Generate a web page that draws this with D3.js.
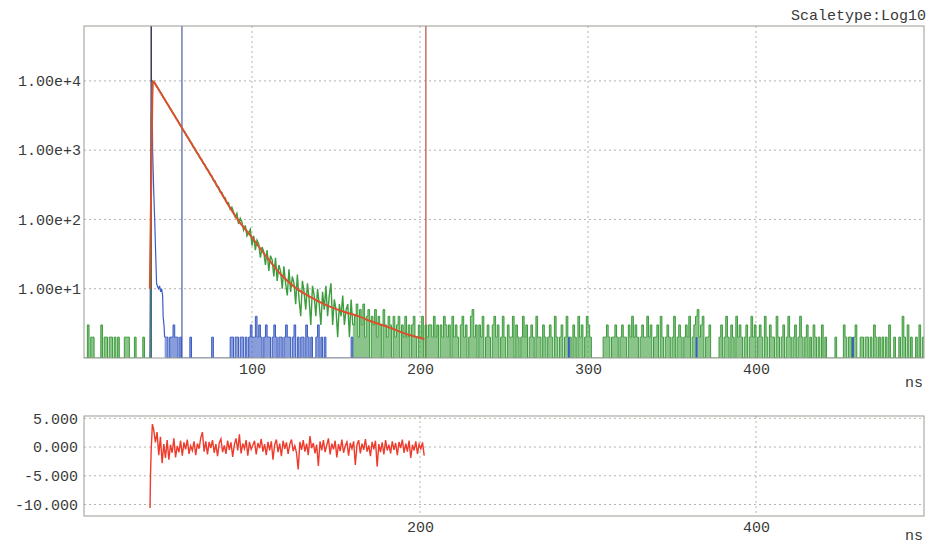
<!DOCTYPE html>
<html>
<head>
<meta charset="utf-8">
<script src="https://cdn.jsdelivr.net/npm/d3@7"></script>
<style>
  body { margin: 0; background: #fff; }
  text { font-family: "Liberation Mono", "DejaVu Sans Mono", monospace; fill: #3a3a3a; }
</style>
</head>
<body>
<div id="my_dataviz"></div>
<script>
// ---- data (counts per 1 ns channel) ----
// decay channels, t = 0 .. 39 ns (before the pulse)
var greenPre = [0,0,3,0,2,2,0,0,0,0, 3,0,2,2,0,2,2,0,2,0, 2,0,0,0,2,2,2,0,0,0, 2,0,0,0,0,2,0,0,0,0];
// t = 40 .. 205 ns
var greenDecay = [2600,9900,9300,8500,7900,7100,6600,5900,5450,4900,
  4550,4080,3780,3390,3150,2820,2630,2340,2180,1950,
  1820,1610,1520,1340,1270,1110,1060,920,880,770,
  740,640,615,530,515,440,428,365,358,300,
  298,250,246,212,206,172,
  175,140,150,128,108,122,86,104,92,70,
  82,58,64,72,42,58,36,50,44,28,
  40,34,22,36,18,30,26,15,28,13,
  22,18,10,21,12,8,19,9,15,12,
  6,16,7,4,13,9,5,12,7,3,
  11,8,4,10,6,3,9,5,11,4,
  8,12,3,7,5,
  2,6,4,8,3,5,6,2,7,3,
  4,6,2,5,3,6,2,4,5,1,
  4,3,5,2,4,3,1,5,3,2,
  4,3,1,4,2,3,4,1,3,2,
  4,2,3,1,3,4,2,1,3,2,
  4,1,3,2,3];
// t = 206 .. 499 ns
var greenTail = [3,2,4,2,3,1,3,2,4,3, 2,3,1,4,2,3,2,1,3,4, 2,3,1,2,4,5,2,3,1,3,
  2,4,1,2,3,2,1,3,4,2, 3,1,2,4,2,1,3,2,2,4, 1,3,2,1,2,4,2,3,1,2,
  3,2,1,4,2,2,1,3,2,1, 2,3,2,1,4,2,1,2,3,1, 2,4,2,2,1,3,2,1,4,2,
  3,1,2,4,3,2,1,1,1,1, 1,1,1,2,2,3,2,1,2,2, 3,2,1,2,3,2,2,1,3,2,
  4,2,3,2,1,2,3,2,2,4, 2,3,1,2,2,3,1,4,2,1, 2,3,2,1,2,4,1,2,3,2,
  1,2,3,2,4,1,2,3,4,5, 2,3,4,1,2,2,3,1,1,1, 1,1,2,3,1,2,4,2,1,3,
  2,1,4,2,3,2,1,2,3,1, 2,4,2,3,1,2,3,2,1,4, 2,1,3,2,2,1,4,2,1,2,
  3,1,2,4,2,1,2,3,1,2, 4,2,1,2,3,1,2,1,3,2, 1,2,1,3,1,2,1,1,1,1,
  1,2,1,1,1,1,3,2,1,2, 2,1,2,3,1,1,2,2,1,2, 2,1,2,1,3,2,1,2,1,2,
  1,2,1,3,1,1,2,1,1,2, 1,4,2,1,3,1,2,1,1,2, 1,3,1,2];

// instrument response (blue): the pulse itself
var irfPeakTime   = [39.2, 40.0, 40.4, 40.9, 41.5, 42.2, 42.7, 43.2, 43.6, 44.4, 45.0, 45.6, 46.2, 46.8, 47.1, 47.6, 48.0];
var irfPeakCounts = [0, 2000, 10000, 900, 260, 79, 30, 12, 11, 10, 11, 9, 10, 8, 4, 3, 2];
// t = 48 .. 170 ns
var irfTail = [2,2,0,2,2,3,2,2,0,2, 0,0,0,0,0,2,0,0,0,0, 0,0,0,0,0,0,0,0,2,0,
  0,0,0,0,0,0,0,0,0,2, 2,0,2,2,0,2,2,0,2,0, 2,3,2,2,4,2,3,2,0,2,
  3,2,2,0,2,3,2,0,2,2, 0,2,3,2,2,0,2,3,0,2, 0,2,2,0,3,2,0,2,0,0,
  2,3,0,2,0,2,0,0,0,0, 0,0,0,0,0,0,0,0,0,0, 0,2,0,0,0,0,0,0,0,0,
  0,0,0];
var irfLateTime = [288, 364, 457];
var irfLateCounts = [2, 2, 2];

// fitted curve (red): rising edge, then the decay
var fitRiseTime   = [39.2, 40.8, 41.3];
var fitRiseCounts = [10, 9600, 10000];
var fitTime   = [41.3, 58.0, 74.9, 91.7, 99.6, 108.6, 117.5, 126.4, 134.3, 144.2, 154.1, 164.0, 169.9, 181.8, 193.7, 202.6];
var fitCounts = [10000, 2160, 460, 98, 56.5, 29, 15.8, 10.1, 7.7, 5.8, 4.7, 3.95, 3.45, 2.75, 2.15, 1.88];

// cursors
var cursorStart = 40.0, cursorIrf = 58.3, cursorEnd = 203.5;

// residuals: first points around the rise, then one per ns from 41.5
var residLeadTime  = [39.3, 39.6, 40.0, 40.7];
var residLeadValue = [-10.6, -4.6, -0.5, 4.0];
var residuals = [3.0,0.8,2.6,-1.4,1.8,-2.8,0.5,-1.9,1.2,-2.2,
  0.4,-1.0,1.5,-1.8,0.2,-0.9,1.1,-1.5,0.8,-0.4,
  1.3,-1.2,0.2,-0.6,1.0,-1.4,0.6,-0.3,1.6,2.6,
  -0.8,1.0,-1.3,0.9,-0.2,1.2,-1.0,0.5,-1.6,0.7,
  1.4,-0.9,0.3,-1.2,1.1,-0.5,0.8,-1.7,0.4,1.5,
  -0.6,2.2,-1.1,0.6,-0.3,1.2,-1.5,0.9,-0.4,0.3,
  1.1,-1.3,0.7,-0.2,1.4,-0.8,0.5,-1.4,0.9,-0.6,
  1.0,-2.2,0.4,1.3,-0.9,0.6,-1.6,1.1,-0.3,0.8,
  -1.2,0.5,1.3,-0.7,0.2,-1.0,-3.9,0.9,-0.5,1.2,
  -0.8,0.6,-1.4,1.9,-0.2,0.7,-1.1,0.4,-3.3,1.0,
  -0.6,1.2,-0.9,0.3,1.5,-1.3,0.6,-0.4,1.1,-1.8,
  0.5,-0.7,1.3,-1.0,0.2,0.9,-1.5,0.7,-0.3,1.0,
  -3.1,0.4,1.2,-1.1,0.6,-0.5,1.4,-0.8,0.3,-1.6,
  0.9,-0.4,1.1,-3.4,0.5,-0.9,0.8,-1.3,1.2,-0.6,
  0.4,-1.1,1.0,-0.5,0.7,-1.4,0.9,-0.2,1.3,-1.0,
  0.6,-0.8,1.1,-1.9,0.4,-0.6,1.0,-1.2,0.5,-0.3,
  0.8,-1.5];

// tick labels
var countTicks = [10, 100, 1000, 10000];
var timeTicks = [100, 200, 300, 400];
var residTimeTicks = [200, 400];
var residTicks = [5, 0, -5, -10];

// ---- layout ----
var W = 928, H = 545;
var left = 84, right = 924;
var top1 = 26, bottom1 = 358;
var top2 = 416, bottom2 = 516;

var svg = d3.select("#my_dataviz")
  .append("svg")
    .attr("width", W)
    .attr("height", H);

svg.append("rect").attr("width", W).attr("height", H).attr("fill", "#fff");

var x = d3.scaleLinear().domain([0, 500]).range([left, right]);
var y = d3.scaleLog().domain([1, 62000]).range([bottom1, top1]);
var yr = d3.scaleLinear().domain([-12, 5.4]).range([bottom2, top2]);

var gridColor = "#b4b4ac";
var green = "#3d9c3d", blue = "#3b5cc2";

// grid lines, top panel
svg.append("g").selectAll("line")
  .data(countTicks).enter().append("line")
    .attr("x1", left).attr("x2", right)
    .attr("y1", function(d) { return y(d); }).attr("y2", function(d) { return y(d); })
    .attr("stroke", gridColor).attr("stroke-dasharray", "2,3");
svg.append("g").selectAll("line")
  .data(timeTicks).enter().append("line")
    .attr("x1", function(d) { return x(d); }).attr("x2", function(d) { return x(d); })
    .attr("y1", top1).attr("y2", bottom1)
    .attr("stroke", gridColor).attr("stroke-dasharray", "2,3");

// grid lines, residual panel
svg.append("g").selectAll("line")
  .data(residTicks).enter().append("line")
    .attr("x1", left).attr("x2", right)
    .attr("y1", function(d) { return yr(d); }).attr("y2", function(d) { return yr(d); })
    .attr("stroke", gridColor).attr("stroke-dasharray", "2,3");
svg.append("g").selectAll("line")
  .data(residTimeTicks).enter().append("line")
    .attr("x1", function(d) { return x(d); }).attr("x2", function(d) { return x(d); })
    .attr("y1", top2).attr("y2", bottom2)
    .attr("stroke", gridColor).attr("stroke-dasharray", "2,3");

// axes
function styleTicks(g) {
  g.select(".domain").remove();
  g.selectAll("text").style("font-size", "15px").style("font-family", "Liberation Mono").attr("fill", "#3a3a3a");
}
svg.append("g")
  .attr("transform", "translate(" + left + ",0)")
  .call(d3.axisLeft(y).tickValues(countTicks).tickFormat(d3.format(".2e")).tickSize(0).tickPadding(3))
  .call(styleTicks);

svg.append("g")
  .attr("transform", "translate(0," + bottom1 + ")")
  .call(d3.axisBottom(x).tickValues(timeTicks).tickFormat(d3.format("d")).tickSize(0).tickPadding(5))
  .call(styleTicks);

svg.append("g")
  .attr("transform", "translate(" + left + ",0)")
  .call(d3.axisLeft(yr).tickValues(residTicks).tickFormat(function(d) { return d.toFixed(3); }).tickSize(0).tickPadding(6))
  .call(styleTicks);

svg.append("g")
  .attr("transform", "translate(0," + bottom2 + ")")
  .call(d3.axisBottom(x).tickValues(residTimeTicks).tickFormat(d3.format("d")).tickSize(0).tickPadding(5))
  .call(styleTicks);

// unit labels + scale type
svg.append("text").attr("x", 923).attr("y", 387).attr("text-anchor", "end").style("font-size", "15px").text("ns");
svg.append("text").attr("x", 923).attr("y", 540).attr("text-anchor", "end").style("font-size", "15px").text("ns");
svg.append("text").attr("x", 926).attr("y", 20).attr("text-anchor", "end").style("font-size", "15px").text("Scaletype:Log10");

// clip to the top panel
svg.append("clipPath").attr("id", "clipTop")
  .append("rect").attr("x", left).attr("y", top1).attr("width", right - left).attr("height", bottom1 - top1);
var plot = svg.append("g").attr("clip-path", "url(#clipTop)");

// cursors
plot.append("line")
  .attr("x1", x(cursorEnd)).attr("x2", x(cursorEnd))
  .attr("y1", top1).attr("y2", bottom1)
  .attr("stroke", "#b5503e").attr("stroke-width", 1.2);
plot.append("line")
  .attr("x1", x(cursorIrf)).attr("x2", x(cursorIrf))
  .attr("y1", top1).attr("y2", bottom1)
  .attr("stroke", "#4a5aa6").attr("stroke-width", 1.2);
plot.append("line")
  .attr("x1", x(cursorStart)).attr("x2", x(cursorStart))
  .attr("y1", top1).attr("y2", bottom1)
  .attr("stroke", "#2a2a50").attr("stroke-width", 1.4);

// helpers
var yc = function(d) { return y(Math.max(d.c, 1)); };
var stepLine = d3.line().x(function(d) { return x(d.t); }).y(yc).curve(d3.curveStepAfter);
var stepArea = d3.area().x(function(d) { return x(d.t); }).y0(bottom1).y1(yc).curve(d3.curveStepAfter);
var zigLine = d3.line().x(function(d) { return x(d.t); }).y(yc);

function histogram(data, color) {
  plot.append("path").datum(data)
    .attr("fill", color).attr("fill-opacity", 0.6).attr("stroke", "none")
    .attr("d", stepArea);
  plot.append("path").datum(data)
    .attr("fill", "none").attr("stroke", color).attr("stroke-width", 1)
    .attr("d", stepLine);
}

// decay histogram (green): low-count parts as bars, the busy decay as a dense trace
var decay = greenPre.concat(greenDecay, greenTail).map(function(c, i) { return {t: i, c: c}; });
decay.push({t: 500, c: decay[decay.length - 1].c});
histogram(decay.filter(function(d) { return d.t <= 40; }), green);
plot.append("path")
  .datum(decay.filter(function(d) { return d.t >= 40 && d.t <= 160; }))
  .attr("fill", "none")
  .attr("stroke", green)
  .attr("stroke-width", 1.4)
  .attr("d", zigLine);
histogram(decay.filter(function(d) { return d.t >= 160; }), green);

// instrument response (blue)
var irfPeak = irfPeakTime.map(function(t, i) { return {t: t, c: irfPeakCounts[i]}; });
plot.append("path")
  .datum(irfPeak)
  .attr("fill", "none")
  .attr("stroke", blue)
  .attr("stroke-width", 1.2)
  .attr("d", zigLine);

var irf = irfTail.map(function(c, i) { return {t: 48 + i, c: c}; });
histogram(irf, blue);

plot.append("g").selectAll("rect")
  .data(irfLateTime).enter().append("rect")
    .attr("x", function(d) { return x(d); })
    .attr("width", 2)
    .attr("y", function(d, i) { return y(irfLateCounts[i]); })
    .attr("height", function(d, i) { return bottom1 - y(irfLateCounts[i]); })
    .attr("fill", blue);

// fit (red)
var fitRise = fitRiseTime.map(function(t, i) { return {t: t, c: fitRiseCounts[i]}; });
var fit = fitTime.map(function(t, i) { return {t: t, c: fitCounts[i]}; });
plot.append("path")
  .datum(fitRise)
  .attr("fill", "none")
  .attr("stroke", "#d8502c")
  .attr("stroke-width", 2)
  .attr("d", zigLine);
plot.append("path")
  .datum(fit)
  .attr("fill", "none")
  .attr("stroke", "#d8502c")
  .attr("stroke-width", 2)
  .attr("d", d3.line().x(function(d) { return x(d.t); }).y(function(d) { return y(d.c); }).curve(d3.curveMonotoneX));

// residual panel
var resid = residLeadTime.map(function(t, i) { return {t: t, v: residLeadValue[i]}; })
  .concat(residuals.map(function(v, i) { return {t: 41.5 + i, v: v}; }));
svg.append("path")
  .datum(resid)
  .attr("fill", "none")
  .attr("stroke", "#ee3b2c")
  .attr("stroke-width", 1.4)
  .attr("d", d3.line().x(function(d) { return x(d.t); }).y(function(d) { return yr(d.v); }));

// frames
svg.append("rect")
  .attr("x", left).attr("y", top1).attr("width", right - left).attr("height", bottom1 - top1)
  .attr("fill", "none").attr("stroke", "#9a9a94").attr("stroke-width", 1);
svg.append("rect")
  .attr("x", left).attr("y", top2).attr("width", right - left).attr("height", bottom2 - top2)
  .attr("fill", "none").attr("stroke", "#9a9a94").attr("stroke-width", 1);
</script>
</body>
</html>
